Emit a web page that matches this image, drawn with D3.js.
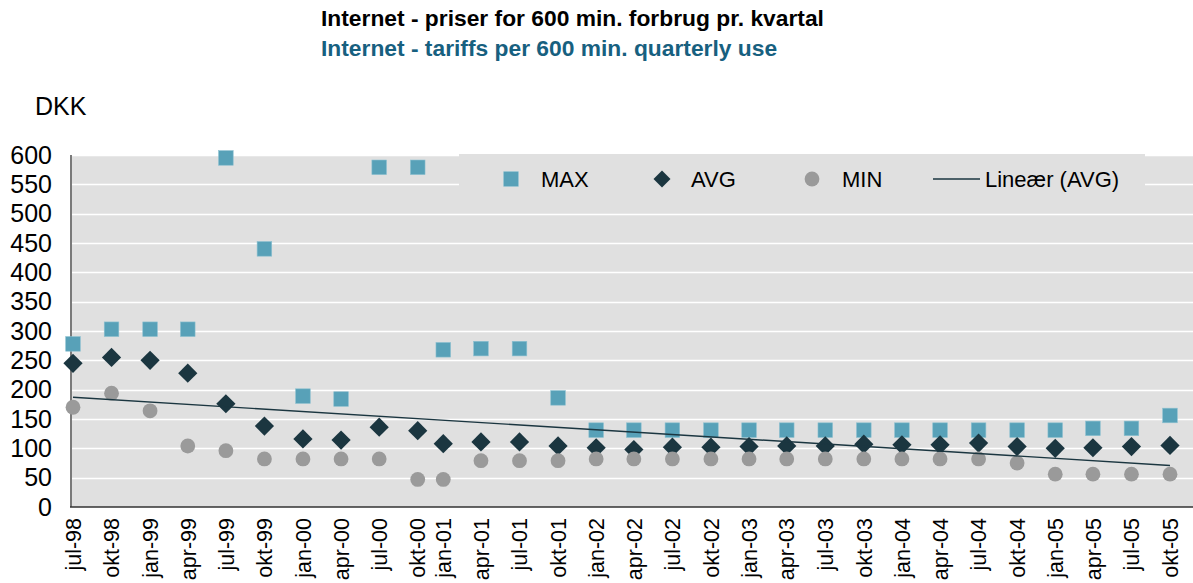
<!DOCTYPE html>
<html>
<head>
<meta charset="utf-8">
<script src="https://cdn.jsdelivr.net/npm/d3@7"></script>
<style>
  html, body { margin: 0; padding: 0; background: #fff; }
  svg { display: block; font-family: "Liberation Sans", Arial, sans-serif; }
</style>
</head>
<body>
<svg id="chart" width="1193" height="583"></svg>
<script>
// ---- data ----
const labels = ["jul-98","okt-98","jan-99","apr-99","jul-99","okt-99","jan-00","apr-00","jul-00","okt-00",
  "jan-01","apr-01","jul-01","okt-01","jan-02","apr-02","jul-02","okt-02","jan-03","apr-03",
  "jul-03","okt-03","jan-04","apr-04","jul-04","okt-04","jan-05","apr-05","jul-05","okt-05"];
// measurement dates (the date axis of the original)
const dates = ["1998-07-01","1998-10-01","1999-01-01","1999-04-01","1999-07-01","1999-10-01","2000-01-01","2000-04-01","2000-07-01","2000-10-01",
  "2000-12-01","2001-03-01","2001-06-01","2001-09-01","2001-12-01","2002-03-01","2002-06-01","2002-09-01","2002-12-01","2003-03-01",
  "2003-06-01","2003-09-01","2003-12-01","2004-03-01","2004-06-01","2004-09-01","2004-12-01","2005-03-01","2005-06-01","2005-09-01"];
const maxVals = [278,303,303,303,595,440,189,184,579,579,268,270,270,186,131,131,131,131,131,131,131,131,131,131,131,131,131,134,134,156];
const avgVals = [245,255,250,228,176,138,116,114,136,130,108,111,111,104,101,98,102,102,103,104,104,107,106,106,109,103,100,101,103,105];
const minVals = [170,194,164,104,96,82,82,82,82,47,47,79,79,79,82,82,82,82,82,82,82,82,82,82,82,75,56,56,56,56];
const yTicks = [0,50,100,150,200,250,300,350,400,450,500,550,600];
const titleDa = "Internet - priser for 600 min. forbrug pr. kvartal";
const titleEn = "Internet - tariffs per 600 min. quarterly use";
const unitLabel = "DKK";
const legendNames = ["MAX","AVG","MIN","Lineær (AVG)"];

// ---- styles ----
const C = { max: "#58a1b8", avg: "#1b3640", min: "#9a9a9a", bg: "#e0e0e0", trend: "#1b3640", blue: "#17607f" };

const svg = d3.select("#chart");
const plot = { left: 71, right: 1193, top: 155, bottom: 507 };
const parse = d3.timeParse("%Y-%m-%d");
const dts = dates.map(parse);

const x = d3.scaleTime().domain([dts[0], dts[dts.length - 1]]).range([73, 1170]);
const y = d3.scaleLinear().domain([0, 600]).range([plot.bottom, plot.top]);

// titles
svg.append("text").attr("x", 321).attr("y", 26).attr("font-size", 22.8).attr("font-weight", "bold")
  .attr("fill", "#000").text(titleDa);
svg.append("text").attr("x", 321).attr("y", 56).attr("font-size", 22.8).attr("font-weight", "bold")
  .attr("fill", C.blue).text(titleEn);
svg.append("text").attr("x", 35).attr("y", 115).attr("font-size", 25).attr("fill", "#000").text(unitLabel);

// plot background
svg.append("rect").attr("x", plot.left).attr("y", plot.top).attr("width", plot.right - plot.left)
  .attr("height", plot.bottom - plot.top).attr("fill", C.bg);

// gridlines
svg.append("g").selectAll("line").data(yTicks.filter(d => d > 0)).join("line")
  .attr("x1", plot.left).attr("x2", plot.right)
  .attr("y1", d => Math.round(y(d)) + 0.5).attr("y2", d => Math.round(y(d)) + 0.5)
  .attr("stroke", "#ffffff").attr("stroke-width", 1.5);

// y axis
const yAxis = svg.append("g").attr("transform", `translate(${plot.left},0)`)
  .call(d3.axisLeft(y).tickValues(yTicks).tickSize(0).tickPadding(19).tickFormat(d3.format("d")));
yAxis.select(".domain").remove();
yAxis.selectAll("text").attr("font-size", 25).attr("fill", "#000")
  .attr("font-family", "'Liberation Sans', Arial, sans-serif");
svg.append("line").attr("x1", plot.left).attr("x2", plot.left).attr("y1", plot.top).attr("y2", plot.bottom)
  .attr("stroke", "#7a7a7a").attr("stroke-width", 2);

// x labels (one per data point)
svg.append("g").selectAll("text").data(labels).join("text")
  .attr("transform", (d, i) => `translate(${x(dts[i])},518) rotate(-90)`)
  .attr("text-anchor", "end").attr("dy", "0.36em").attr("font-size", 21.5).attr("fill", "#000")
  .text(d => d);

// legend box (covers gridlines)
svg.append("rect").attr("x", 459).attr("y", 154).attr("width", 686).attr("height", 48).attr("fill", C.bg);

// x axis line
svg.append("line").attr("x1", plot.left - 1).attr("x2", plot.right).attr("y1", plot.bottom).attr("y2", plot.bottom)
  .attr("stroke", "#333").attr("stroke-width", 1.6);

// marks
const sq = 14.6, dia = 13.6, cr = 7.4;
const gMarks = svg.append("g");
gMarks.append("g").selectAll("rect").data(maxVals).join("rect")
  .attr("x", (d, i) => x(dts[i]) - sq / 2).attr("y", d => y(d) - sq / 2)
  .attr("width", sq).attr("height", sq).attr("fill", C.max)
  .attr("stroke", "#8cc0d0").attr("stroke-width", 0.6);
gMarks.append("g").selectAll("rect").data(avgVals).join("rect")
  .attr("transform", (d, i) => `translate(${x(dts[i])},${y(d)}) rotate(45)`)
  .attr("x", -dia / 2).attr("y", -dia / 2).attr("width", dia).attr("height", dia).attr("fill", C.avg);
gMarks.append("g").selectAll("circle").data(minVals).join("circle")
  .attr("cx", (d, i) => x(dts[i])).attr("cy", d => y(d)).attr("r", cr).attr("fill", C.min);

// linear trend of AVG (least squares over the date axis)
const xs = dts.map(d => +d), n = xs.length;
const mx = d3.mean(xs), my = d3.mean(avgVals);
const sxy = d3.sum(xs, (v, i) => (v - mx) * (avgVals[i] - my));
const sxx = d3.sum(xs, v => (v - mx) * (v - mx));
const slope = sxy / sxx, icpt = my - slope * mx;
const ends = [dts[0], dts[n - 1]];
svg.append("line")
  .attr("x1", x(ends[0])).attr("y1", y(icpt + slope * +ends[0]))
  .attr("x2", x(ends[1])).attr("y2", y(icpt + slope * +ends[1]))
  .attr("stroke", C.trend).attr("stroke-width", 1.4);

// legend items
const lg = svg.append("g").attr("font-size", 22).attr("fill", "#000");
const ly = 179;
lg.append("rect").attr("x", 511 - sq / 2).attr("y", ly - sq / 2).attr("width", sq).attr("height", sq)
  .attr("fill", C.max).attr("stroke", "#8cc0d0").attr("stroke-width", 0.6);
lg.append("text").attr("x", 541).attr("y", ly + 8).text(legendNames[0]);
lg.append("rect").attr("transform", `translate(662,${ly}) rotate(45)`)
  .attr("x", -6).attr("y", -6).attr("width", 12).attr("height", 12).attr("fill", C.avg);
lg.append("text").attr("x", 691).attr("y", ly + 8).text(legendNames[1]);
lg.append("circle").attr("cx", 812).attr("cy", ly).attr("r", 7.4).attr("fill", C.min);
lg.append("text").attr("x", 842).attr("y", ly + 8).text(legendNames[2]);
lg.append("line").attr("x1", 933).attr("x2", 980).attr("y1", ly).attr("y2", ly)
  .attr("stroke", C.trend).attr("stroke-width", 1.4);
lg.append("text").attr("x", 985).attr("y", ly + 8).text(legendNames[3]);
</script>
</body>
</html>
